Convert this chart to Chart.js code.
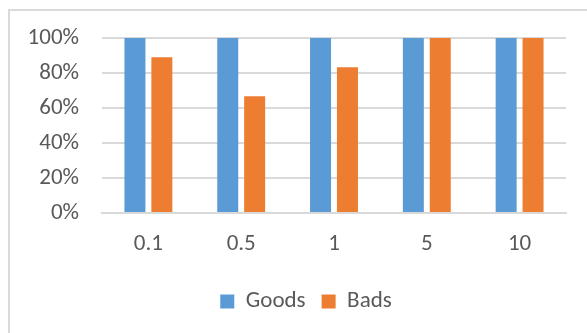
<!DOCTYPE html>
<html lang="en">

<head>
    <meta charset="UTF-8">
    <title>Goods and Bads</title>
    <script src="https://cdn.jsdelivr.net/npm/chart.js@4.4.0/dist/chart.umd.min.js"></script>
    <style>
        body {
            margin: 0;
            background: white;
        }

        .wrap {
            position: relative;
            width: 587px;
            height: 333px;
            overflow: hidden;
        }

        .frame {
            position: absolute;
            left: 8px;
            top: 9px;
            width: 600px;
            height: 340px;
            border-left: 2px solid #d9d9d9;
            border-top: 2px solid #d9d9d9;
        }

        canvas {
            position: absolute;
            left: 0;
            top: 0;
        }
    </style>
</head>

<body>
    <div class="wrap">
        <div class="frame"></div>
        <canvas id="myChart" width="587" height="333"></canvas>
    </div>
</body>

</html>

<script>
    // categories along the x axis
    let levels = ['0.1', '0.5', '1', '5', '10'];

    // share of goods / bads, 0..1
    let goods = [1, 1, 1, 1, 1];
    let bads = [0.89, 0.667, 0.833, 1, 1];

    // y axis ticks
    let yTicks = [0, 0.2, 0.4, 0.6, 0.8, 1];

    let fontFamily = 'Carlito, Lato, "Open Sans", sans-serif';
    let textColor = '#595959';

    // nudge the legend a bit to the right, under the middle of the bars
    const legendShift = {
        id: 'legendShift',
        afterLayout(chart) {
            chart.legend.left += 19;
            chart.legend.right += 19;
        }
    };

    let ctx = document.getElementById('myChart').getContext('2d');

    let barChart = new Chart(ctx, {
        type: 'bar',
        data: {
            labels: levels,
            datasets: [{
                label: 'Goods',
                data: goods,
                backgroundColor: '#5b9bd5'
            }, {
                label: 'Bads',
                data: bads,
                backgroundColor: '#ed7d31'
            }]
        },
        plugins: [legendShift],
        options: {
            responsive: false,
            animation: false,
            categoryPercentage: 0.58,
            barPercentage: 0.78,
            layout: {
                padding: { left: 8, top: 38, right: 21, bottom: 10 }
            },
            scales: {
                x: {
                    grid: { display: false },
                    border: { color: '#d9d9d9', width: 2 },
                    ticks: {
                        color: textColor,
                        padding: 9,
                        font: { family: fontFamily, size: 23 }
                    },
                    afterFit: function (scale) { scale.height = 61; }
                },
                y: {
                    min: 0,
                    max: 1,
                    afterBuildTicks: function (scale) {
                        scale.ticks = yTicks.map(v => ({ value: v }));
                    },
                    grid: { color: '#d9d9d9', lineWidth: 2, drawTicks: false },
                    border: { display: false },
                    ticks: {
                        color: textColor,
                        padding: 23,
                        font: { family: fontFamily, size: 23 }
                    },
                    afterFit: function (scale) { scale.width = 94; }
                }
            },
            plugins: {
                legend: {
                    position: 'bottom',
                    labels: {
                        color: textColor,
                        boxWidth: 14,
                        boxHeight: 14,
                        padding: 16,
                        font: { family: fontFamily, size: 23 }
                    }
                },
                tooltip: { enabled: false }
            }
        }
    });

    // percent labels on the value axis
    barChart.options.scales.y.ticks.callback = v => Math.round(v * 100) + '%';
    barChart.update();
</script>
